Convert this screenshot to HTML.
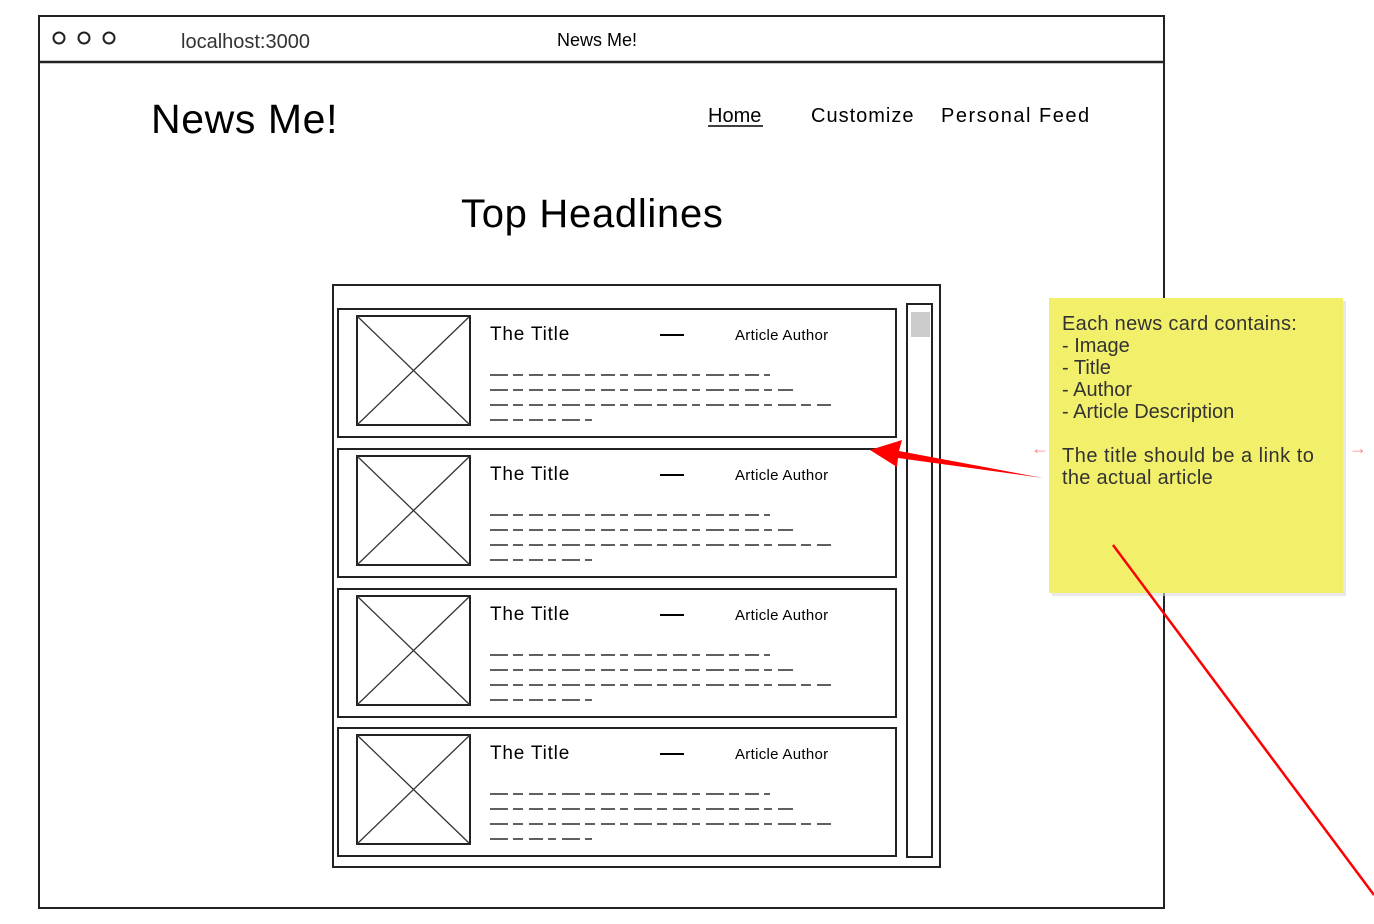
<!DOCTYPE html>
<html><head><meta charset="utf-8"><style>
html,body{margin:0;padding:0;background:#fff;width:1374px;height:924px;overflow:hidden}
svg{display:block}
text{font-family:"Liberation Sans",sans-serif;fill:#000}
.sq{stroke:#000;stroke-width:1.3;fill:none;stroke-dasharray:18 5 10 6 14 5 8 6}
</style></head><body>
<svg width="1374" height="924" viewBox="0 0 1374 924">
<defs>
<g id="card">
  <rect x="0" y="0" width="558" height="128" fill="#fff" stroke="#222" stroke-width="2"/>
  <rect x="19" y="7" width="113" height="109" fill="none" stroke="#222" stroke-width="2"/>
  <line x1="19" y1="7" x2="132" y2="116" stroke="#333" stroke-width="1.3"/>
  <line x1="132" y1="7" x2="19" y2="116" stroke="#333" stroke-width="1.3"/>
  <text x="152" y="31" font-size="19" letter-spacing="0.8">The Title</text>
  <line x1="322" y1="26" x2="346" y2="26" stroke="#000" stroke-width="2"/>
  <text x="397" y="31" font-size="15" letter-spacing="0.3">Article Author</text>
  <path class="sq" d="M152 66 H432"/>
  <path class="sq" d="M152 81 H455"/>
  <path class="sq" d="M152 96 H496"/>
  <path class="sq" d="M152 111 H254"/>
</g>
</defs>
<rect x="39" y="16" width="1125" height="892" fill="#fff" stroke="#222" stroke-width="2"/>
<line x1="39" y1="62" x2="1164" y2="62" stroke="#222" stroke-width="2.5"/>
<circle cx="59" cy="38" r="5.5" fill="none" stroke="#222" stroke-width="2"/>
<circle cx="84" cy="38" r="5.5" fill="none" stroke="#222" stroke-width="2"/>
<circle cx="109" cy="38" r="5.5" fill="none" stroke="#222" stroke-width="2"/>
<text x="181" y="48" font-size="20" style="fill:#333">localhost:3000</text>
<text x="557" y="46" font-size="18">News Me!</text>
<text x="151" y="133" font-size="41" letter-spacing="0.6">News Me!</text>
<text x="708" y="122" font-size="20">Home</text>
<line x1="708" y1="126" x2="763" y2="126" stroke="#000" stroke-width="1.5"/>
<text x="811" y="122" font-size="20" letter-spacing="1">Customize</text>
<text x="941" y="122" font-size="20" letter-spacing="1.5">Personal Feed</text>
<text x="461" y="227" font-size="40" letter-spacing="0.7">Top Headlines</text>
<rect x="333" y="285" width="607" height="582" fill="#fff" stroke="#222" stroke-width="2"/>
<rect x="907" y="304" width="25" height="553" fill="#fff" stroke="#222" stroke-width="2"/>
<rect x="911" y="312" width="19" height="25" fill="#ccc"/>
<use href="#card" x="338" y="309"/>
<use href="#card" x="338" y="449"/>
<use href="#card" x="338" y="589"/>
<use href="#card" x="338" y="728"/>
<rect x="1052" y="301" width="294" height="295" fill="#d8d8d8" opacity="0.6"/>
<rect x="1049" y="298" width="294" height="295" fill="#f2f06a"/>
<g font-size="20">
<text x="1062" y="330" style="fill:#333" letter-spacing="0.3">Each news card contains:</text>
<text x="1062" y="352" style="fill:#333">- Image</text>
<text x="1062" y="374" style="fill:#333">- Title</text>
<text x="1062" y="396" style="fill:#333">- Author</text>
<text x="1062" y="418" style="fill:#333">- Article Description</text>
<text x="1062" y="462" style="fill:#333" letter-spacing="0.5">The title should be a link to</text>
<text x="1062" y="484" style="fill:#333" letter-spacing="0.3">the actual article</text>
</g>
<text x="1031" y="454" font-size="18" font-weight="bold" style="fill:#f88">←</text>
<text x="1349" y="454" font-size="18" font-weight="bold" style="fill:#f88">→</text>
<polygon points="1043,478 898,458 897,467 870,450 902,440 899,451" fill="#f00"/>
<line x1="1113" y1="545" x2="1374" y2="895" stroke="#f00" stroke-width="2.5"/>
</svg>
</body></html>
